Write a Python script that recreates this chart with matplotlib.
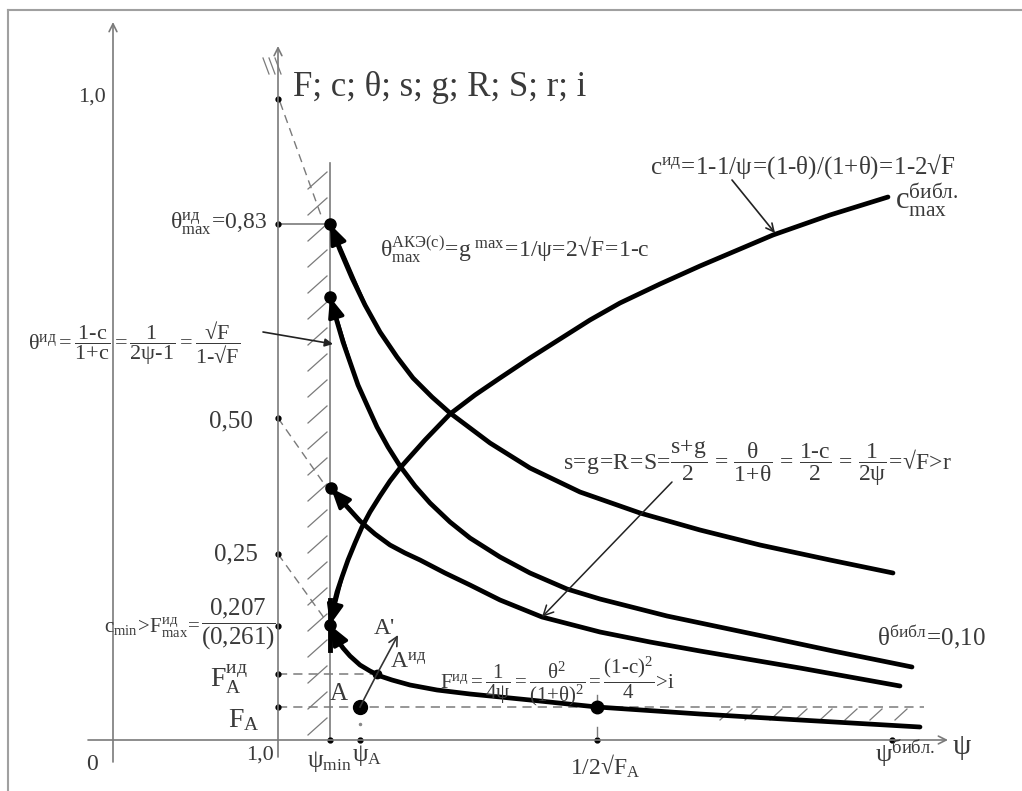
import numpy as np
import matplotlib.pyplot as plt

plt.rcParams['mathtext.fontset'] = 'custom'
plt.rcParams['mathtext.rm'] = 'Liberation Serif'
plt.rcParams['mathtext.it'] = 'Liberation Serif:italic'
plt.rcParams['mathtext.bf'] = 'Liberation Serif:bold'
plt.rcParams['mathtext.default'] = 'regular'
plt.rcParams['font.family'] = ['Liberation Serif', 'DejaVu Serif']

# ---- data (schematic diagram units; origin = crossing of ψ and F axes) ----
theta_id_x = [52, 62, 74, 87, 102, 119, 135, 154, 172, 212, 252, 302, 362, 422, 482, 552, 615]
theta_id_y = [516, 490, 462, 435, 408, 383, 362, 343, 327, 297, 272, 248, 227, 210, 195, 180, 167]
theta_ake_x = [52, 58, 65, 72, 80, 89, 99, 110, 122, 137, 152, 172, 192, 222, 252, 289, 322, 389, 489, 555, 634]
theta_ake_y = [443, 422, 398, 378, 355, 335, 313, 293, 274, 254, 237, 218, 202, 183, 167, 151, 141, 124, 103, 89, 73]
s_x = [53, 62, 72, 82, 97, 112, 127, 142, 167, 192, 222, 264, 322, 372, 422, 522, 622]
s_y = [252, 241, 230, 219, 206, 195, 187, 180, 167, 155, 140, 123, 108, 98, 89, 72, 54]
c_x = [52, 55, 59, 64, 70, 77, 84, 92, 102, 112, 122, 147, 172, 197, 222, 252, 282, 312, 342, 382, 422, 495, 552, 610]
c_y = [115, 132, 148, 163, 180, 197, 213, 228, 244, 259, 272, 300, 326, 345, 362, 382, 401, 420, 437, 456, 474, 505, 525, 543]
F_x = [52, 56, 60, 65, 72, 82, 92, 102, 114, 132, 159, 192, 252, 319, 422, 522, 642]
F_y = [115, 107, 99, 92, 84, 75, 69, 64, 60, 55, 50, 46, 40, 33, 26, 20, 13]

ytick_pos = [641, 516, 322, 186, 114, 66, 33]
xtick_pos = [52, 82, 319, 614]
point_A = (82, 33)
point_Aid = (99, 66)
point_Ap = (120, 105)
point_half = (319, 33)

TXT = '#3a3a3a'
AX = '#7a7a7a'

fig = plt.figure(figsize=(10.22, 7.91), dpi=100)
ax = fig.add_axes([0, 0, 1, 1])
ax.set_xlim(-278, 744)
ax.set_ylim(-51, 740)
ax.axis('off')

def P(px, py):
    return (px - 278, 740 - py)

# frame
ax.plot([-270, -270], [-51, 730], color='#a0a0a0', lw=1.5)
ax.plot([-270, 744], [730, 730], color='#a0a0a0', lw=1.5)

def arrow_line(p0, p1, color=AX, lw=1.2, style='->', ms=14):
    ax.annotate('', xy=p1, xytext=p0,
                arrowprops=dict(arrowstyle=style, color=color, lw=lw,
                                shrinkA=0, shrinkB=0, mutation_scale=ms))

# axes
arrow_line(P(113, 762), P(113, 22))
arrow_line(P(278, 757), P(278, 46))
arrow_line(P(88, 740), P(948, 740))

# psi_min vertical line with hatching
ax.plot([52, 52], [0, 577], color=AX, lw=1.2)
for yy in np.arange(180, 735, 26):
    x0, y0 = P(308, yy + 9)
    x1, y1 = P(327, yy - 8)
    ax.plot([x0, x1], [y0, y1], color=AX, lw=0.9)

# hatch near the top of F axis and dashed connectors
for k in range(3):
    x0, y0 = P(263 + 6 * k, 58)
    x1, y1 = P(269 + 6 * k, 74)
    ax.plot([x0, x1], [y0, y1], color=AX, lw=0.9)
for (a, b) in [((280, 102), (322, 218)), ((278, 418), (327, 488)), ((278, 554), (327, 622))]:
    p0, p1 = P(*a), P(*b)
    ax.plot([p0[0], p1[0]], [p0[1], p1[1]], color=AX, lw=1.0, ls=(0, (6, 4)))

# horizontal 0.83 line
ax.plot([0, 52], [516, 516], color=AX, lw=1.2)

# dashed horizontals
ax.plot([0, 99], [66, 66], color=AX, lw=1.1, ls=(0, (6, 4)))
ax.plot([0, 646], [33, 33], color=AX, lw=1.1, ls=(0, (6, 4)))
for xx in np.arange(720, 916, 25):
    x0, y0 = P(xx, 720)
    x1, y1 = P(xx + 12, 709)
    ax.plot([x0, x1], [y0, y1], color=AX, lw=0.9)

# curves
for xs, ys in [(theta_id_x, theta_id_y), (theta_ake_x, theta_ake_y),
               (s_x, s_y), (c_x, c_y), (F_x, F_y)]:
    ax.plot(xs, ys, color='black', lw=3.4, solid_capstyle='round', solid_joinstyle='round')
    ax.annotate('', xy=(xs[0], ys[0]), xytext=(xs[3], ys[3]),
                arrowprops=dict(arrowstyle='-|>,head_length=0.55,head_width=0.22',
                                color='black', lw=2.5, shrinkA=0, shrinkB=0,
                                mutation_scale=22))
ax.plot([52, 52], [90, 140], color='black', lw=3.5)

# start dots
ax.plot([theta_id_x[0], theta_ake_x[0], s_x[0], c_x[0]],
        [theta_id_y[0], theta_ake_y[0], s_y[0], c_y[0]], 'o', color='black', ms=8)

# tick dots
ax.plot([0] * len(ytick_pos), ytick_pos, 'o', color='black', ms=3.5)
ax.plot(xtick_pos, [0] * len(xtick_pos), 'o', color='black', ms=3.5)
ax.plot(*P(360, 724), 'o', color='#888888', ms=1.5)
ax.plot([319, 319], [38, 45], color=AX, lw=1)
ax.plot([319, 319], [4, 13], color=AX, lw=1)

# points A, A^ид, 1/2sqrtF_A
ax.plot(*point_A, 'o', color='black', ms=10)
ax.plot(*point_Aid, 'o', color='black', ms=6)
ax.plot(*point_half, 'o', color='black', ms=9)
ax.plot([point_A[0], point_Aid[0]], [point_A[1], point_Aid[1]], color='#333333', lw=1.2)
arrow_line(point_Aid, point_Ap, color='#333333', lw=1.2, ms=16)

# annotation arrows
arrow_line(P(263, 332), P(333, 344), color='#222222', lw=1.2, style='-|>', ms=12)
arrow_line(P(732, 180), P(775, 233), color='#222222', lw=1.2, style='->', ms=14)
arrow_line(P(672, 482), P(542, 617), color='#222222', lw=1.1, style='->', ms=18)

def T(px, py, s, fs, ha='left', va='center'):
    x, y = P(px, py)
    ax.text(x, y, s, fontsize=fs, ha=ha, va=va, color=TXT)

# texts
T(106, 97, '1,0', 16, ha='right')
T(92, 765, '0', 17, ha='center')
T(274, 755, '1,0', 16, ha='right')
T(293, 88, 'F; c; θ; s; g; R; S; r; i', 25)
T(267, 224, r'$θ^{ид}_{max}\!=\!0{,}83$', 17, ha='right')
T(380, 250, r'$θ^{АКЭ(c)}_{max}\!=\!g^{\ max}\!=\!1/ψ\!=\!2√F\!=\!1\text{-}c$', 17)
T(650, 167, r'$c^{ид}\!=\!1\text{-}1/ψ\!=\!(1\text{-}θ)/(1\text{+}θ)\!=\!1\text{-}2√F$', 18)
T(895, 200, r'$c^{библ.}_{max}$', 22)
T(28, 343, r'$θ^{ид}=\dfrac{1\text{-}c}{1\text{+}c}=\dfrac{1}{2ψ\text{-}1}=\dfrac{√F}{1\text{-}√F}$', 16)
T(253, 421, '0,50', 18, ha='right')
T(258, 554, '0,25', 18, ha='right')
T(200, 628, r'$c_{min}\!>\!F^{ид}_{max}\!=$', 15, ha='right')
T(238, 624, r'$\dfrac{0{,}207}{(0{,}261)}$', 18, ha='center')
T(248, 679, r'$F^{ид}_{A}$', 20, ha='right')
T(260, 720, r'$F_{A}$', 20, ha='right')
T(352, 761, r'$ψ_{min}$', 18, ha='right')
T(352, 756, r'$ψ_{A}$', 18, ha='left')
T(605, 766, r'$1/2√F_{A}$', 17, ha='center')
T(905, 754, r'$ψ^{библ.}$', 19, ha='center')
T(962, 747, 'ψ', 21, ha='center')
T(384, 628, "A'", 17, ha='center')
T(408, 662, r'$A^{ид}$', 17, ha='center')
T(339, 694, 'A', 18, ha='center')
T(440, 681, r'$F^{ид}=\dfrac{1}{4ψ}=\dfrac{θ^{2}}{(1\text{+}θ)^{2}}=\dfrac{(1\text{-}c)^{2}}{4}\!>\!i$', 15)
T(563, 463, r'$s\!=\!g\!=\!R\!=\!S\!=\!\dfrac{s\text{+}g}{2}\,=\,\dfrac{θ}{1\text{+}θ}\,=\,\dfrac{1\text{-}c}{2}\,=\,\dfrac{1}{2ψ}\!=\!√F\!>\!r$', 17)
T(877, 637, r'$θ^{библ}\!=\!0{,}10$', 18)

fig.savefig('out.png', dpi=100)
